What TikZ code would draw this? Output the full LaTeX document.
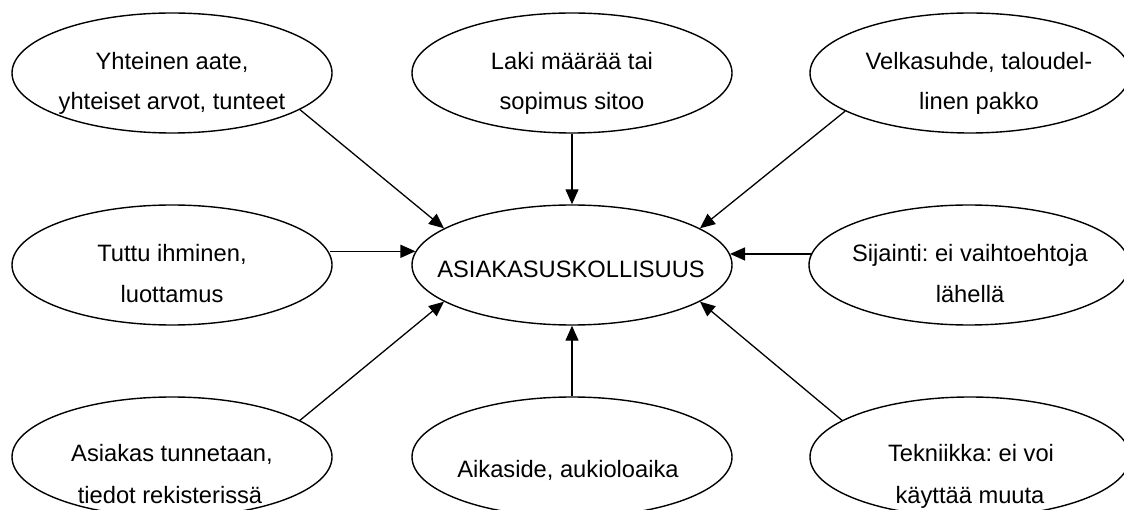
\documentclass[tikz,border=0pt]{standalone}
\usepackage{fontspec}
\setmainfont{Liberation Sans}
\usetikzlibrary{shapes.geometric,arrows.meta}
\frenchspacing
\begin{document}
\begin{tikzpicture}[x=1pt,y=-1pt,
  bubble/.style={ellipse,draw,line width=1.4pt,minimum width=320pt,minimum height=120pt,inner sep=0pt},
  txt/.style={anchor=base,inner sep=0pt,font=\fontsize{23.7}{28}\selectfont},
  link/.style={line width=1.3pt,-{Triangle[length=15pt,width=13pt]}}]
\useasboundingbox (0,0) rectangle (1124,510);
\clip (0,0) rectangle (1124,510);

% ellipses
\node[bubble] (tl) at (172,73) {};
\node[bubble] (tm) at (572,73) {};
\node[bubble] (tr) at (970,73) {};
\node[bubble] (ml) at (172,265) {};
\node[bubble] (c)  at (572,265) {};
\node[bubble] (mr) at (969,265) {};
\node[bubble] (bl) at (172,457) {};
\node[bubble] (bm) at (572,457) {};
\node[bubble] (br) at (970,457) {};

% texts
\node[txt] (tl1) at (172,70)  {Yhteinen aate,};
\node[txt] (tl2) at (172,110) {yhteiset arvot, tunteet};
\node[txt] (tm1) at (572,70)  {Laki määrää tai};
\node[txt] (tm2) at (572,110) {sopimus sitoo};
\node[txt] (tr1) at (979,70)  {Velkasuhde, taloudel-};
\node[txt] (tr2) at (979,110) {linen pakko};
\node[txt] (ml1) at (172,262) {Tuttu ihminen,};
\node[txt] (ml2) at (172,303) {luottamus};
\node[txt] (c1)  at (571,278) {ASIAKASUSKOLLISUUS};
\node[txt] (mr1) at (970,262) {Sijainti: ei vaihtoehtoja};
\node[txt] (mr2) at (970,303) {lähellä};
\node[txt] (bl1) at (172,461) {Asiakas tunnetaan,};
\node[txt] (bl2) at (170,503) {tiedot rekisterissä};
\node[txt] (bm1) at (568,477) {Aikaside, aukioloaika};
\node[txt] (br1) at (971,461) {Tekniikka: ei voi};
\node[txt] (br2) at (970,503) {käyttää muuta};

% connectors
\draw[link] (tl.-16.7) -- (c.164);
\draw[link] (tm.south) -- (c.north);
\draw[link] (tr.-163) -- (c.16);
\draw[link] (ml.4.4 |- c.175.6) -- (c.175.6);
\draw[link] (mr.175.6 |- c.4.4) -- (c.4.4);
\draw[link] (bl.16) -- (c.-164);
\draw[link] (bm.north) -- (c.south);
\draw[link] (br.164) -- (c.-16);
\end{tikzpicture}
\end{document}
